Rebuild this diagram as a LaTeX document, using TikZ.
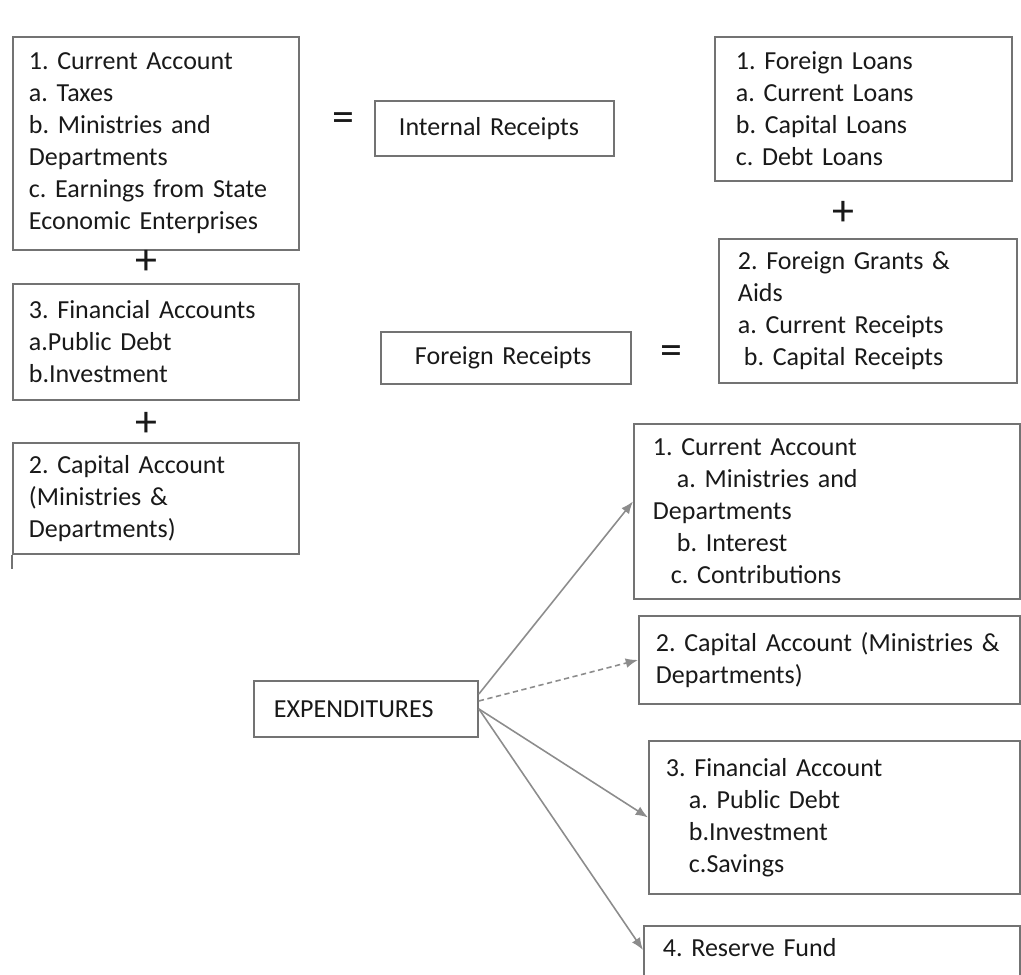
\documentclass[tikz,border=0pt]{standalone}
\usepackage{fontspec}
\setmainfont{Carlito}
\usetikzlibrary{arrows.meta, positioning}
\frenchspacing

\begin{document}
\begin{tikzpicture}[
    x=0.02cm, y=-0.02cm,
    >={Latex[length=7pt,width=5.5pt]},
    acct/.style={draw=black!55, line width=1.1pt, anchor=north west,
                 align=left, inner ysep=0pt, text=black!90,
                 font=\fontsize{14.8pt}{18.2pt}\selectfont},
    sym/.style={font=\fontsize{25pt}{25pt}\selectfont, text=black!90,
                inner sep=0pt},
    flow/.style={->, draw=black!45, line width=0.9pt}
  ]
  \useasboundingbox (0,0) rectangle (1021,974);

  % internal receipts
  \node[acct, inner xsep=0.32cm, text width=5.08cm, minimum height=4.26cm]
    (incur) at (12,36) {1. Current Account\\ a. Taxes\\ b. Ministries and\\
    Departments\\ c. Earnings from State\\ Economic Enterprises};
  \node[acct, inner xsep=0.32cm, text width=5.08cm, minimum height=2.32cm]
    (infin) at (12,283) {3. Financial Accounts\\ a.Public Debt\\ b.Investment};
  \node[acct, inner xsep=0.32cm, text width=5.08cm, minimum height=2.22cm]
    (incap) at (12,442) {2. Capital Account\\ (Ministries \&\\ Departments)};
  \node[acct, inner xsep=0.48cm, text width=3.82cm, minimum height=1.1cm]
    (intrec) at (374,100) {Internal Receipts};

  \node[sym] (eqint) at (343,122) {=};
  \node[sym] (plusa) at (146,262) {+};
  \node[sym] (plusb) at (146,424) {+};
  \draw[draw=black!55, line width=1.1pt] (incap.south west) -- ++(0,14);

  % foreign receipts
  \node[acct, inner xsep=0.42cm, text width=5.1cm, minimum height=2.88cm]
    (forloan) at (714,36) {1. Foreign Loans\\ a. Current Loans\\
    b. Capital Loans\\ c. Debt Loans};
  \node[acct, inner xsep=0.38cm, text width=5.2cm, minimum height=2.88cm]
    (forgrant) at (718,238) {2. Foreign Grants \&\\ Aids\\
    a. Current Receipts\\ \hspace*{0.12cm}b. Capital Receipts};
  \node[acct, inner xsep=0.68cm, text width=3.64cm, minimum height=1.04cm]
    (forrec) at (380,331) {Foreign Receipts};

  \node[sym] (plusc) at (843,213) {+};
  \node[sym] (eqfor) at (671,355) {=};

  % expenditures
  \node[acct, inner xsep=0.4cm, text width=3.68cm, minimum height=1.12cm]
    (expend) at (253,680) {EXPENDITURES};
  \node[acct, inner xsep=0.38cm, text width=6.96cm, minimum height=3.5cm]
    (excur) at (633,423) {1. Current Account\\
    \hspace*{0.48cm}a. Ministries and\\ Departments\\
    \hspace*{0.48cm}b. Interest\\ \hspace*{0.36cm}c. Contributions};
  \node[acct, inner xsep=0.34cm, text width=6.94cm, minimum height=1.76cm]
    (excap) at (638,615) {2. Capital Account (Ministries \&\\ Departments)};
  \node[acct, inner xsep=0.34cm, text width=6.74cm, minimum height=3.06cm]
    (exfin) at (648,740) {3. Financial Account\\
    \hspace*{0.46cm}a. Public Debt\\ \hspace*{0.46cm}b.Investment\\
    \hspace*{0.46cm}c.Savings};
  \node[acct, inner xsep=0.38cm, text width=6.76cm, text height=0.62cm,
        text depth=1cm] (exres) at (643,925) {4. Reserve Fund};

  \draw[flow] ([yshift=0.3cm]expend.east) -- ([yshift=0.2cm]excur.west);
  \draw[flow, densely dashed] ([yshift=0.16cm]expend.east) -- (excap.west);
  \draw[flow] (expend.east) -- (exfin.west);
  \draw[flow] (expend.east) -- ([yshift=-0.5cm]exres.north west);
\end{tikzpicture}
\end{document}
